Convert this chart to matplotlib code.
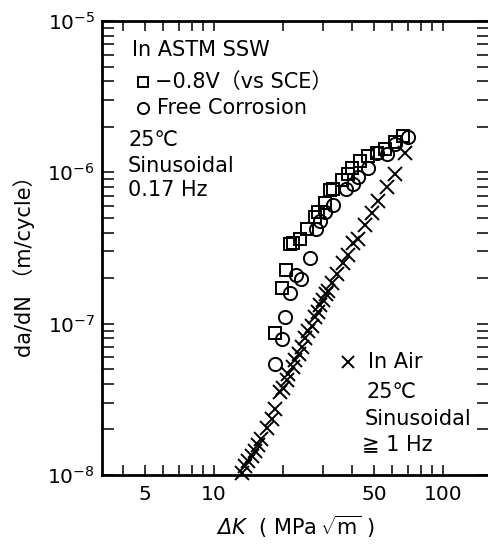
import matplotlib
matplotlib.use("Agg")
import matplotlib.pyplot as plt
from matplotlib.ticker import LogLocator, FixedLocator, NullFormatter, FixedFormatter

plt.rcParams['font.family'] = ['DejaVu Sans', 'Noto Sans CJK JP']
plt.rcParams['mathtext.fontset'] = 'custom'
plt.rcParams['mathtext.rm'] = 'DejaVu Sans'
plt.rcParams['mathtext.it'] = 'DejaVu Sans:italic'
plt.rcParams['mathtext.sf'] = 'DejaVu Sans:italic'
plt.rcParams['mathtext.bf'] = 'DejaVu Sans:bold'

# -0.8V (vs SCE), squares
sq_dk = [18.5, 19.8, 20.7, 21.5, 22.2, 23.8, 25.4, 27.6, 28.5, 30.5, 32.1, 33.2,
         36.1, 38.6, 39.9, 43.4, 47.2, 51.4, 55.9, 61.7, 67.1]
sq_da = [8.7e-8, 1.72e-7, 2.25e-7, 3.34e-7, 3.4e-7, 3.6e-7, 4.2e-7, 5.1e-7, 5.5e-7,
         6.3e-7, 7.6e-7, 7.8e-7, 8.9e-7, 9.8e-7, 1.07e-6, 1.18e-6, 1.28e-6, 1.35e-6,
         1.43e-6, 1.58e-6, 1.74e-6]

# Free corrosion, circles
ci_dk = [18.5, 19.8, 20.4, 21.5, 22.9, 24.1, 26.2, 28.0, 28.9, 30.5, 33.2, 37.9,
         40.5, 42.6, 47.2, 51.4, 56.8, 61.7, 70.4]
ci_da = [5.4e-8, 7.9e-8, 1.1e-7, 1.6e-7, 2.1e-7, 1.97e-7, 2.7e-7, 4.2e-7, 4.8e-7,
         5.5e-7, 6.1e-7, 7.8e-7, 8.4e-7, 9.3e-7, 1.07e-6, 1.35e-6, 1.32e-6, 1.54e-6,
         1.71e-6]

# In air, crosses
x_dk = [13.2, 13.6, 14.1, 14.6, 15.1, 15.6, 16.1, 17.0, 17.9, 18.5, 19.4, 20.1,
        20.8, 21.1, 22.2, 22.6, 23.4, 24.2, 25.0, 25.8, 26.7, 27.6, 28.5, 29.0,
        30.0, 31.0, 31.6, 32.6, 34.3, 36.7, 38.6, 40.6, 42.7, 45.6, 48.8, 52.2,
        56.7, 61.7, 68.2]
x_da = [1.03e-8, 1.14e-8, 1.24e-8, 1.34e-8, 1.45e-8, 1.57e-8, 1.74e-8, 2.04e-8,
        2.33e-8, 2.73e-8, 3.55e-8, 3.74e-8, 4.27e-8, 4.62e-8, 5.14e-8, 5.71e-8,
        6.34e-8, 7.05e-8, 8.0e-8, 8.9e-8, 9.7e-8, 1.1e-7, 1.19e-7, 1.33e-7, 1.44e-7,
        1.56e-7, 1.64e-7, 1.87e-7, 2.13e-7, 2.5e-7, 2.85e-7, 3.43e-7, 3.61e-7,
        4.47e-7, 5.37e-7, 6.46e-7, 7.97e-7, 9.8e-7, 1.35e-6]

xticks = [5, 10, 50, 100]
xtick_labels = ['5', '10', '50', '100']

fig = plt.figure(figsize=(4.89, 5.45), dpi=100)
ax = fig.add_axes([102/489, 70/545, 387/489, 454/545])
ax.set_xscale('log')
ax.set_yscale('log')
ax.set_xlim(10**0.511, 10**2.201)
ax.set_ylim(1e-8, 1e-5)

mk = dict(linestyle='none', color='black', mfc='none', mew=1.4, clip_on=False)
ax.plot(sq_dk, sq_da, marker='s', ms=8, **mk)
ax.plot(ci_dk, ci_da, marker='o', ms=9.5, **mk)
ax.plot(x_dk, x_da, marker='x', ms=10, **mk)

# axis styling
for s in ['left', 'bottom', 'top']:
    ax.spines[s].set_linewidth(2.0)
ax.spines['right'].set_visible(False)

ax.xaxis.set_major_locator(FixedLocator(xticks))
ax.xaxis.set_major_formatter(FixedFormatter(xtick_labels))
ax.xaxis.set_minor_locator(LogLocator(base=10, subs=range(2, 10)))
ax.xaxis.set_minor_formatter(NullFormatter())
ax.yaxis.set_major_locator(LogLocator(base=10, numticks=10))
ax.yaxis.set_minor_locator(LogLocator(base=10, subs=range(2, 10), numticks=20))
ax.yaxis.set_minor_formatter(NullFormatter())

ax.tick_params(axis='x', which='both', direction='in', top=True, bottom=True,
               length=7, width=1.1, labelsize=14.5, pad=7)
ax.tick_params(axis='y', which='both', direction='in', left=True, right=True,
               length=8.5, width=1.1, labelsize=14.5, pad=5)

ax.set_xlabel(r'$\mathsf{\Delta K}$  ( MPa$\,\sqrt{\mathrm{m}}$ )', fontsize=15)
ax.xaxis.set_label_coords(0.5, -0.086)
ax.set_ylabel('da/dN （m/cycle）', fontsize=15)
ax.yaxis.set_label_coords(-0.174, 0.471)

# annotations
tr = ax.transAxes
def fx(px):
    return (px - 102) / 387
def fy(py):
    return (475 - py) / 454

fs = 15
ax.text(fx(132), fy(50), 'In ASTM SSW', transform=tr, fontsize=fs, va='center', ha='left')
ax.plot([fx(143)], [fy(82)], marker='s', ms=7, transform=tr, **mk)
ax.text(fx(155), fy(82), '\u22120.8V（vs SCE）', transform=tr, fontsize=fs, va='center', ha='left')
ax.plot([fx(143)], [fy(108)], marker='o', ms=8, transform=tr, **mk)
ax.text(fx(157), fy(108), 'Free Corrosion', transform=tr, fontsize=fs, va='center', ha='left')
ax.text(fx(128), fy(140), '25\u2103', transform=tr, fontsize=fs, va='center', ha='left')
ax.text(fx(128), fy(166), 'Sinusoidal', transform=tr, fontsize=fs, va='center', ha='left')
ax.text(fx(128), fy(190), '0.17 Hz', transform=tr, fontsize=fs, va='center', ha='left')

ax.plot([fx(348)], [fy(362)], marker='x', ms=8, transform=tr, **mk)
ax.text(fx(368), fy(362), 'In Air', transform=tr, fontsize=fs, va='center', ha='left')
ax.text(fx(367), fy(392), '25\u2103', transform=tr, fontsize=fs, va='center', ha='left')
ax.text(fx(365), fy(419), 'Sinusoidal', transform=tr, fontsize=fs, va='center', ha='left')
ax.text(fx(362), fy(444), '\u2267 1 Hz', transform=tr, fontsize=fs, va='center', ha='left')

fig.savefig('out.png', dpi=100)
